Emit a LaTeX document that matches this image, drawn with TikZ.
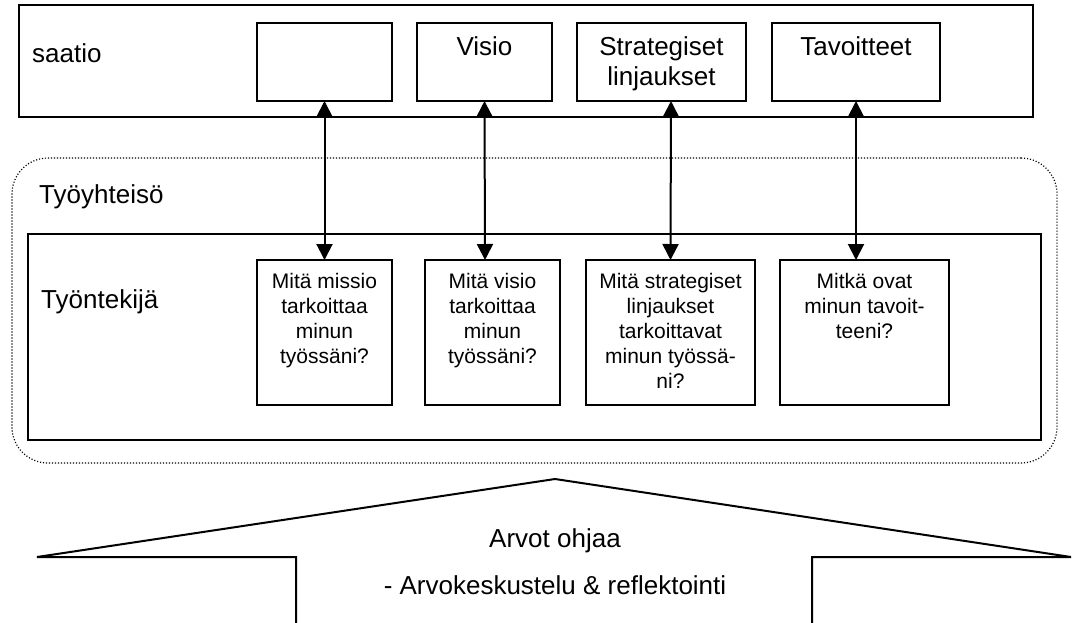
\documentclass[tikz,border=0pt]{standalone}
\usepackage{fontspec}
\setmainfont{Liberation Sans}
\usetikzlibrary{arrows.meta}

\begin{document}
\begin{tikzpicture}[x=1pt,y=-1pt,
  frame/.style={draw, line width=1.7pt, inner sep=0pt, outer sep=0pt, anchor=north west},
  dotframe/.style={draw, line width=1.2pt, dash pattern=on 1.1pt off 1.9pt,
    rounded corners=36pt, inner sep=0pt, outer sep=0pt, anchor=north west},
  big/.style={font=\fontsize{26}{30}\selectfont, inner sep=0pt},
  small/.style={font=\fontsize{21}{24.8}\selectfont, inner sep=0pt, align=center, anchor=north},
  toplabel/.style={big, align=center, anchor=north},
  link/.style={line width=2pt, {Triangle[length=16pt,width=16pt]}-{Triangle[length=16pt,width=16pt]}},
  pointer/.style={line width=2pt, line join=miter}
]
\useasboundingbox (0,0) rectangle (1074,622);

% foundation level
\node[frame, minimum width=1014pt, minimum height=112pt] (org) at (19,5) {};
\node[big, anchor=base west] (orgname) at (32,62) {saatio};
\node[frame, minimum width=135pt, minimum height=78pt] (t1) at (257,23) {};
\node[frame, minimum width=135pt, minimum height=78pt] (t2) at (417,23) {};
\node[frame, minimum width=169pt, minimum height=78pt] (t3) at (577,23) {};
\node[frame, minimum width=168pt, minimum height=78pt] (t4) at (772,23) {};
\node[toplabel] (t2text) at ([yshift=-13pt]t2.north) {Visio};
\node[toplabel] (t3text) at ([yshift=-13pt]t3.north) {Strategiset\\linjaukset};
\node[toplabel] (t4text) at ([yshift=-13pt]t4.north) {Tavoitteet};

% work community and employee
\node[dotframe, minimum width=1045pt, minimum height=305pt] (team) at (12,158) {};
\node[big, anchor=base west] (teamname) at (39,203) {Työyhteisö};
\node[frame, minimum width=1013pt, minimum height=206pt] (emp) at (28,234) {};
\node[big, anchor=base west] (empname) at (41,308) {Työntekijä};

\node[frame, minimum width=135pt, minimum height=145pt] (q1) at (257,260) {};
\node[frame, minimum width=135pt, minimum height=145pt] (q2) at (425,260) {};
\node[frame, minimum width=169pt, minimum height=145pt] (q3) at (586,260) {};
\node[frame, minimum width=169pt, minimum height=145pt] (q4) at (780,260) {};
\node[small] (q1text) at ([yshift=-13.5pt]q1.north) {Mitä missio\\tarkoittaa\\minun\\työssäni?};
\node[small] (q2text) at ([yshift=-13.5pt]q2.north) {Mitä visio\\tarkoittaa\\minun\\työssäni?};
\node[small] (q3text) at ([yshift=-13.5pt]q3.north) {Mitä strategiset\\linjaukset\\tarkoittavat\\minun työssä-\\ni?};
\node[small] (q4text) at ([yshift=-13.5pt]q4.north) {Mitkä ovat\\minun tavoit-\\teeni?};

% two-way links between levels
\draw[link] (q1.north) -- (t1.south);
\draw[link] ([xshift=-7.5pt]q2.north) -- (t2.south);
\draw[link] (q3.north) -- ([xshift=9.5pt]t3.south);
\draw[link] ([xshift=-8.5pt]q4.north) -- (t4.south);

% values arrow
\coordinate (apex) at (555,479);
\coordinate (ltip) at (37,557);
\coordinate (rtip) at (1071,557);
\coordinate (lfoot) at (296,630);
\coordinate (rfoot) at (812,630);
\draw[pointer] (lfoot) -- (lfoot |- ltip) -- (ltip) -- (apex) -- (rtip) -- (rfoot |- rtip) -- (rfoot);
\node[big, anchor=base] (val1) at (555,547) {Arvot ohjaa};
\node[big, anchor=base] (val2) at (555,594) {- Arvokeskustelu \& reflektointi};
\end{tikzpicture}
\end{document}
